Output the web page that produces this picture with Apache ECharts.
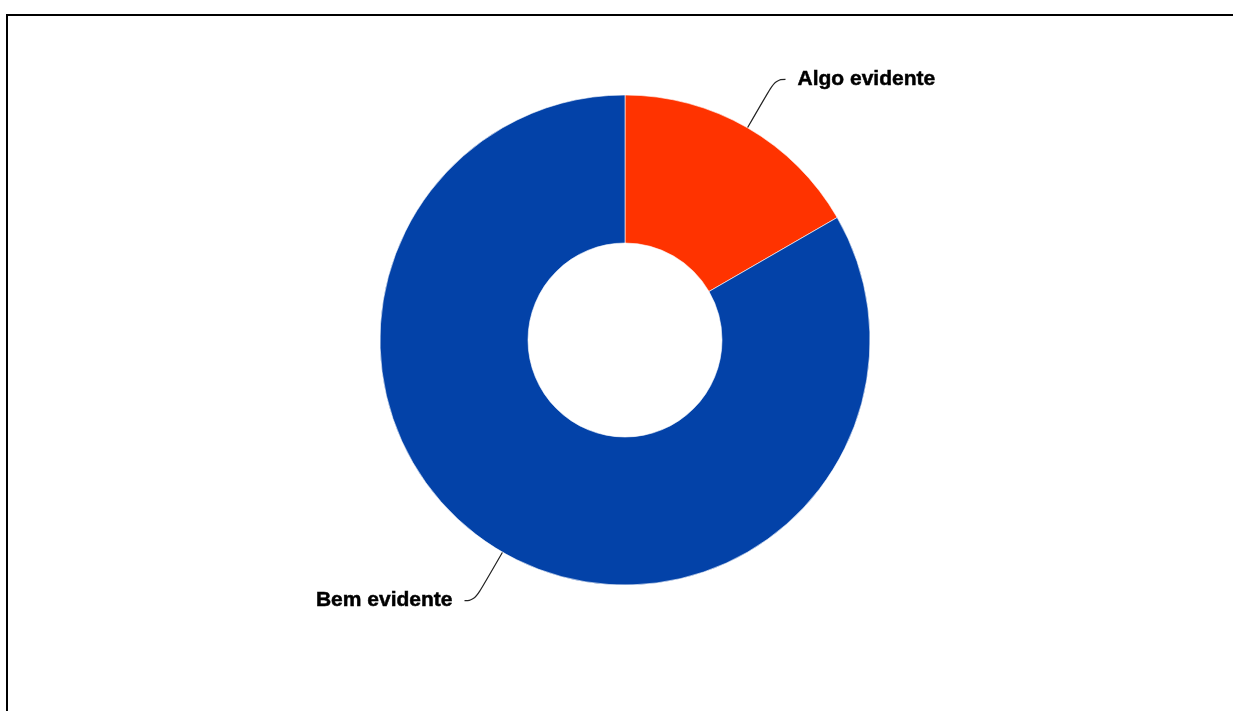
<!DOCTYPE html>
<html>
<head>
<meta charset="utf-8">
<script src="https://cdn.jsdelivr.net/npm/echarts@6/dist/echarts.min.js"></script>
<style>
html,body{margin:0;padding:0;background:#fff;}
#chart{width:1233px;height:711px;}
</style>
</head>
<body>
<div id="chart"></div>
<script>
// Donut: how evident the effect is
const categories = ['Algo evidente', 'Bem evidente'];
const values = [1, 5];
const colors = ['#FF3300', '#0342A8'];

const chart = echarts.init(document.getElementById('chart'));
chart.setOption({
  animation: false,
  graphic: [{
    type: 'rect',
    shape: { x: 7, y: 15, width: 1300, height: 800 },
    style: { fill: 'none', stroke: '#000', lineWidth: 2 },
    silent: true
  }],
  series: [{
    type: 'pie',
    center: [625, 340],
    radius: [97, 245],
    startAngle: 90,
    clockwise: true,
    avoidLabelOverlap: false,
    itemStyle: { borderColor: '#fff', borderWidth: 0.6 },
    label: {
      show: true,
      position: 'outside',
      color: '#000',
      fontFamily: 'Liberation Sans, Arial, sans-serif',
      fontWeight: 'bold',
      fontSize: 21,
      textBorderColor: '#000',
      textBorderWidth: 0.5,
      distanceToLabelLine: 12
    },
    labelLine: {
      show: true,
      length: 56,
      length2: 10,
      smooth: 0.5,
      lineStyle: { color: '#222', width: 1.2 }
    },
    data: categories.map((name, i) => ({
      name: name,
      value: values[i],
      itemStyle: { color: colors[i] }
    }))
  }]
});
</script>
</body>
</html>
